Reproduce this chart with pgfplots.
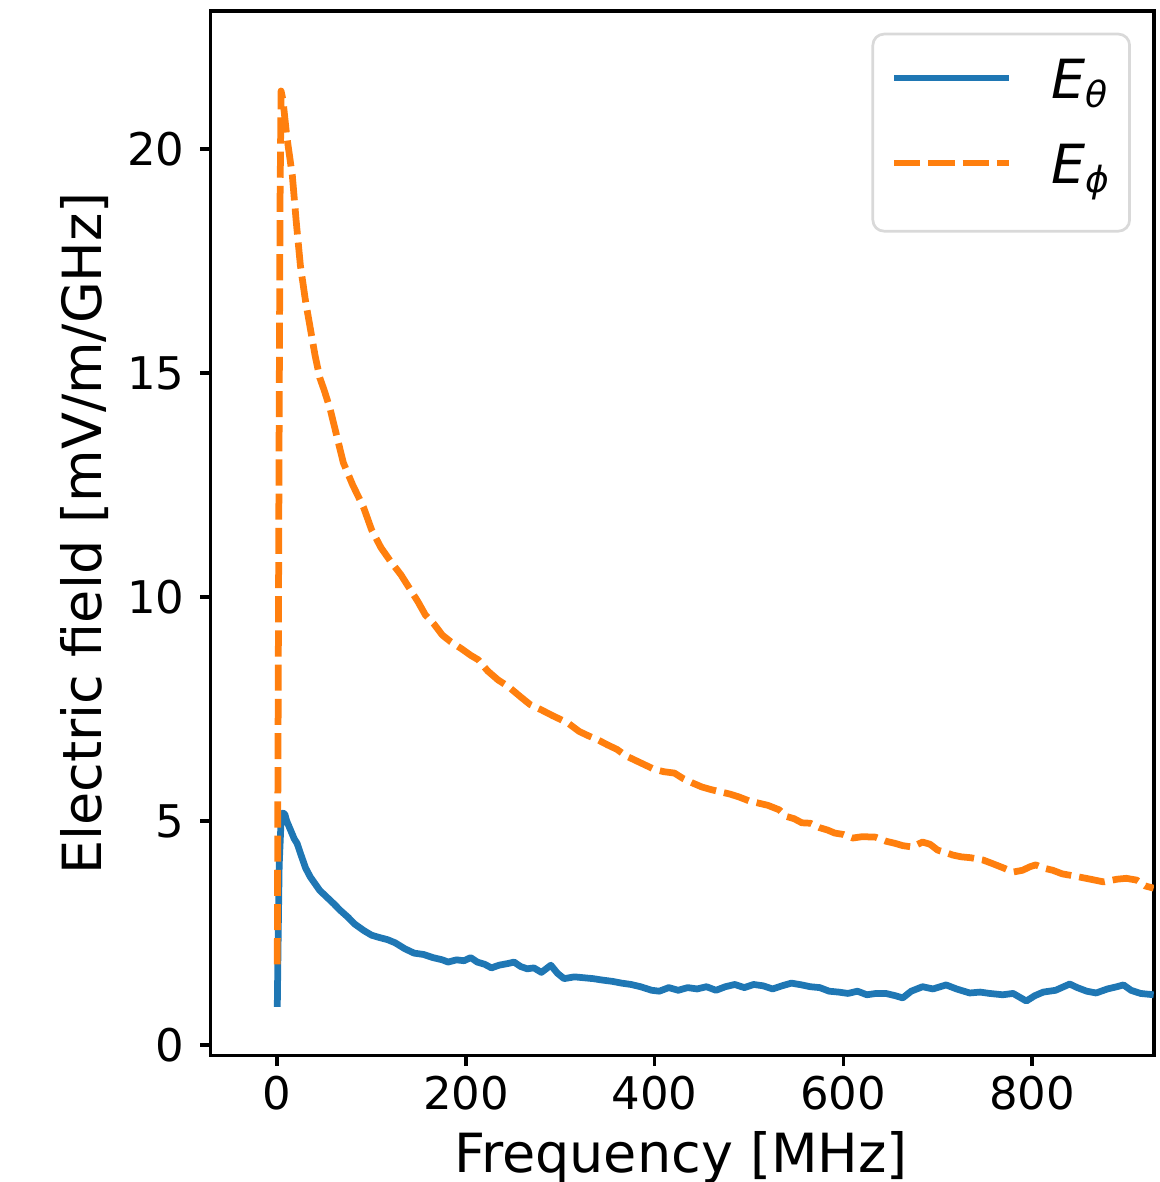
\documentclass[border=0pt]{standalone}
\usepackage{fontspec}
\setmainfont{DejaVu Sans}
\usepackage{pgfplots}
\pgfplotsset{compat=1.18}
\definecolor{mblue}{HTML}{1F77B4}
\definecolor{morange}{HTML}{FF7F0E}
\begin{document}
\begin{tikzpicture}
\begin{axis}[
  name=ax,
  at={(0,0)}, anchor=south west,
  width=209.6pt, height=232.2pt, scale only axis,
  xmin=-70.6, xmax=929.2, ymin=-0.24, ymax=23.09,
  xtick={0,200,400,600,800}, ytick={0,5,10,15,20},
  tick align=outside, tick pos=left,
  major tick length=2.3pt,
  every tick/.style={black, line width=0.8pt},
  axis line style={line width=0.8pt},
  /pgf/number format/assume math mode=true,
  ticklabel style={font=\fontsize{10}{12}\selectfont},
  xticklabel style={yshift=1.2pt},
  xlabel={Frequency [MHz]}, ylabel={Electric field [mV/m/GHz]},
  label style={font=\fontsize{12}{14}\selectfont, inner sep=0pt},
  xlabel style={at={(axis description cs:0.4986,-0.072)}, anchor=north},
  ylabel style={at={(axis description cs:-0.1069,0.5)}, anchor=south},
  legend style={at={(rel axis cs:0.9757,0.979)}, anchor=north east,
    draw=black!15, line width=0.6pt, rounded corners=2.5pt, fill=white,
    font=\fontsize{12}{14}\selectfont, inner xsep=4.0pt, inner ysep=3pt,
    row sep=0pt, column sep=8.6pt,
    nodes={inner sep=0pt, text height=11.4pt, text depth=7.5pt}},
  legend cell align=left,
  legend image code/.code={\draw[#1] (0pt,2.7pt) -- (25.6pt,2.7pt);},
]
\addplot[mblue, line width=1.5pt, line join=round] coordinates {
(0,0.85) (1,2.5) (2,4.0) (4,5.0) (6,5.18) (8,5.15) (10,5.0) (14,4.8) (18,4.6) (21,4.5)
(25,4.25) (30,3.95) (35,3.75) (40,3.6) (45,3.45) (50,3.35) (55,3.25) (60,3.15) (67,3.0)
(75,2.85) (82,2.7) (92,2.55) (100,2.45) (108,2.4) (117,2.35) (125,2.28) (135,2.15)
(145,2.05) (155,2.02) (165,1.95) (175,1.9) (181,1.85) (190,1.9) (198,1.88) (205,1.95)
(212,1.85) (220,1.8) (227,1.72) (235,1.78) (245,1.82) (251,1.85) (258,1.75) (265,1.7)
(272,1.72) (280,1.62) (290,1.78) (297,1.6) (304,1.48) (315,1.52) (325,1.5) (335,1.48)
(344,1.45) (355,1.42) (365,1.38) (375,1.35) (385,1.3) (397,1.22) (405,1.2) (415,1.28)
(425,1.22) (435,1.28) (445,1.25) (455,1.3) (465,1.22) (475,1.3) (485,1.35) (495,1.28)
(505,1.35) (515,1.32) (525,1.25) (535,1.32) (545,1.38) (556,1.34) (565,1.3) (575,1.28)
(585,1.2) (595,1.18) (605,1.15) (615,1.2) (625,1.12) (635,1.15) (645,1.15) (655,1.1)
(663,1.05) (672,1.2) (684,1.3) (695,1.25) (709,1.34) (720,1.25) (734,1.16) (745,1.18)
(755,1.15) (769,1.12) (780,1.15) (794,0.98) (803,1.1) (812,1.18) (825,1.22) (840,1.36)
(848,1.28) (858,1.2) (868,1.16) (880,1.25) (890,1.3) (897,1.34) (905,1.22) (915,1.15)
(929,1.12)
};
\addlegendentry{{\itshape E}\textsubscript{\itshape θ}}
\addplot[morange, line width=1.5pt, dash pattern=on 5.8pt off 1.8pt, line join=round] coordinates {
(0,1.8) (1,8) (2,14) (3,19) (4,21.3) (6,21.1) (10,20.3) (16,19.4) (20,18.4) (24.5,17.4)
(30,16.6) (35,16.0) (40,15.4) (45,14.9) (50,14.6) (56,14.2) (63,13.6) (70,13.0) (80,12.5)
(91.5,12.0) (100,11.5) (110,11.1) (120,10.8) (131,10.5) (140,10.2) (149,9.9) (157,9.6)
(166,9.4) (175,9.15) (184,9.0) (195,8.85) (205,8.7) (213,8.6) (223,8.35) (234,8.15)
(245,8.0) (258,7.77) (268,7.6) (280,7.48) (292,7.35) (308,7.19) (320,7.0) (330,6.9)
(340,6.81) (350,6.7) (360,6.6) (370,6.45) (379,6.36) (390,6.25) (400,6.15) (410,6.1)
(421,6.07) (430,5.95) (440,5.85) (450,5.76) (460,5.7) (470,5.65) (480,5.6) (489,5.54)
(500,5.45) (510,5.4) (520,5.35) (532,5.25) (540,5.1) (548,5.05) (556,4.96) (565,4.95)
(575,4.85) (583,4.8) (591,4.73) (600,4.7) (610,4.62) (620,4.65) (634,4.64) (645,4.55)
(655,4.5) (663,4.45) (673,4.42) (684,4.53) (692,4.48) (700,4.35) (708,4.3) (716,4.24)
(725,4.2) (735,4.18) (748,4.13) (758,4.05) (770,3.95) (780,3.86) (790,3.9) (798,3.98)
(804,4.02) (812,3.95) (822,3.9) (832,3.82) (840,3.79) (850,3.75) (862,3.7) (876,3.64)
(890,3.7) (900,3.72) (911,3.68) (920,3.55) (929,3.5)
};
\addlegendentry{{\itshape E}\textsubscript{\itshape ϕ}}
\end{axis}
\pgfresetboundingbox
\path[use as bounding box] (-46.82pt,-28.07pt) rectangle (210.74pt,234.6pt);
\end{tikzpicture}
\end{document}
